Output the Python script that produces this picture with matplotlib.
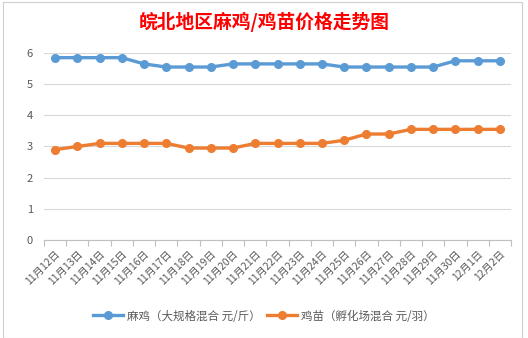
import matplotlib.pyplot as plt
from matplotlib.patches import Rectangle

plt.rcParams['font.family'] = ['Noto Sans CJK SC', 'DejaVu Sans']

dates = ['11月12日', '11月13日', '11月14日', '11月15日', '11月16日', '11月17日',
         '11月18日', '11月19日', '11月20日', '11月21日', '11月22日', '11月23日',
         '11月24日', '11月25日', '11月26日', '11月27日', '11月28日', '11月29日',
         '11月30日', '12月1日', '12月2日']
maji = [5.85, 5.85, 5.85, 5.85, 5.65, 5.55, 5.55, 5.55, 5.65, 5.65, 5.65,
        5.65, 5.65, 5.55, 5.55, 5.55, 5.55, 5.55, 5.75, 5.75, 5.75]
jimiao = [2.9, 3.0, 3.1, 3.1, 3.1, 3.1, 2.95, 2.95, 2.95, 3.1, 3.1,
          3.1, 3.1, 3.2, 3.4, 3.4, 3.55, 3.55, 3.55, 3.55, 3.55]
yticks = [0, 1, 2, 3, 4, 5, 6]

fig = plt.figure(figsize=(5.28, 3.38), dpi=100)
fig.patches.append(Rectangle((0.006, 0.0), 0.982, 0.995, transform=fig.transFigure,
                             fill=False, ec='#d0d0d0', lw=0.8))
ax = fig.add_axes([44 / 528, 1 - 240 / 338, 467 / 528, 187 / 338])

x = list(range(len(dates)))
ax.plot(x, maji, color='#5B9BD5', lw=2.4, marker='o', ms=5.5,
        label='麻鸡（大规格混合 元/斤）', zorder=3)
ax.plot(x, jimiao, color='#ED7D31', lw=2.4, marker='o', ms=5.5,
        label='鸡苗（孵化场混合 元/羽）', zorder=3)

ax.set_xlim(-0.5, len(dates) - 0.5)
ax.set_ylim(0, 6)
ax.set_yticks(yticks)
ax.grid(axis='y', color='#d9d9d9', lw=0.8)
ax.set_axisbelow(True)
for s in ['top', 'right', 'left']:
    ax.spines[s].set_visible(False)
ax.spines['bottom'].set_color('#bfbfbf')
ax.tick_params(axis='y', length=0, labelsize=8, labelcolor='#595959', pad=8)

# category boundary ticks, labels sit on the minor ticks at the points
ax.set_xticks([i - 0.5 for i in range(len(dates) + 1)], minor=False)
ax.set_xticklabels([])
ax.tick_params(axis='x', length=4, color='#bfbfbf', direction='out')
ax.set_xticks(x, minor=True)
ax.set_xticklabels(dates, minor=True, rotation=45, ha='right', va='top',
                   rotation_mode='anchor', fontsize=7.5, color='#595959')
ax.tick_params(axis='x', which='minor', length=0, pad=6)

fig.text(0.5, 1 - 22 / 338, '皖北地区麻鸡/鸡苗价格走势图', color='#ff0000',
         fontsize=13.5, fontweight='bold', ha='center', va='center')

fig.legend(loc='center', bbox_to_anchor=(0.5, 1 - 316 / 338), ncol=2,
           frameon=False, fontsize=8.3, handlelength=2.6, columnspacing=0.6,
           handletextpad=0.3, labelcolor='#595959')

fig.savefig('out.png', dpi=100)
